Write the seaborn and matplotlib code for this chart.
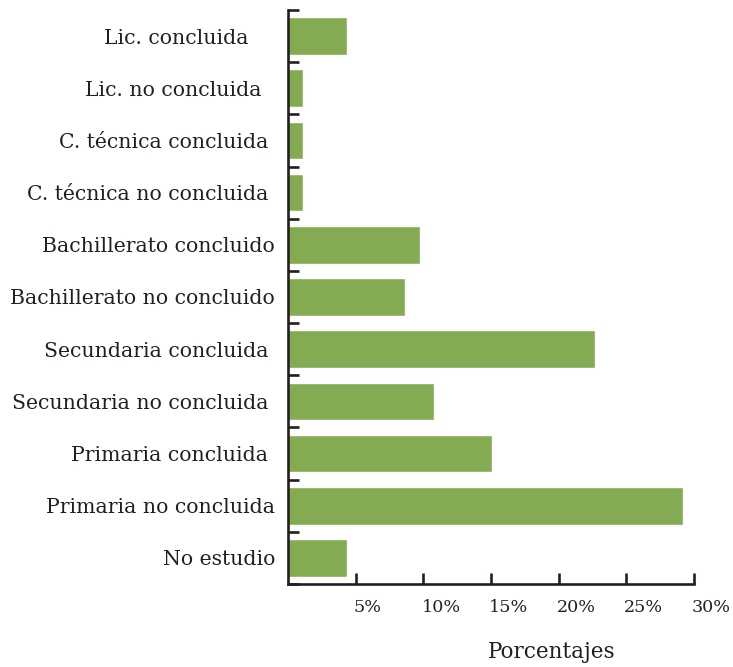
import matplotlib
matplotlib.use("Agg")
import matplotlib.pyplot as plt
import matplotlib.transforms as mtransforms
import seaborn as sns
import pandas as pd
import numpy as np

categories = [
    "Lic. concluida", "Lic. no concluida", "C. técnica concluida",
    "C. técnica no concluida", "Bachillerato concluido",
    "Bachillerato no concluido", "Secundaria concluida",
    "Secundaria no concluida", "Primaria concluida",
    "Primaria no concluida", "No estudio",
]
display_labels = [
    "Lic. concluida    ", "Lic. no concluida  ", "C. técnica concluida ",
    "C. técnica no concluida ", "Bachillerato concluido",
    "Bachillerato no concluido", "Secundaria concluida ",
    "Secundaria no concluida ", "Primaria concluida ",
    "Primaria no concluida", "No estudio",
]
values = [4.36, 1.11, 1.11, 1.11, 9.75, 8.65, 22.7, 10.8, 15.1, 29.2, 4.36]
xticks = [5, 10, 15, 20, 25, 30]
xtick_labels = ["5%", "10%", "15%", "20%", "25%", "30%"]

df = pd.DataFrame({"cat": categories, "val": values})

sns.set_theme(style="white")
plt.rcParams["font.family"] = ["DejaVu Serif"]

fig = plt.figure(figsize=(7.33, 6.67), dpi=100)
ax = fig.add_axes([288 / 733, 1 - 584 / 667, 406 / 733, 574 / 667])

sns.barplot(data=df, x="val", y="cat", orient="h", color="#84ab51",
            saturation=1, width=0.72, ax=ax)

ink = "#231f20"
ax.set_xlim(0, 30)
ax.set_ylim(10.5, -0.5)

for s in ["top", "right"]:
    ax.spines[s].set_visible(False)
for s in ["left", "bottom"]:
    ax.spines[s].set_color(ink)
    ax.spines[s].set_linewidth(1.9)

# y axis: labels at centres, ticks at boundaries
ax.set_yticks(range(len(categories)))
ax.set_yticklabels(display_labels)
ax.set_yticks(np.arange(-0.5, len(categories), 1.0), minor=True)
ax.tick_params(axis="y", which="major", length=0, pad=9.4,
               labelsize=14.7, labelcolor=ink)
ax.tick_params(axis="y", which="minor", direction="in", length=8,
               width=1.9, color=ink, left=True)

# x axis
ax.set_xticks(xticks)
ax.set_xticklabels(xtick_labels)
ax.tick_params(axis="x", which="major", direction="in", length=8,
               width=1.9, color=ink, pad=11, labelsize=12.6,
               labelcolor=ink, bottom=True)
shift = mtransforms.ScaledTranslation(-2 / 100, 0, fig.dpi_scale_trans)
for lbl in ax.get_xticklabels():
    lbl.set_horizontalalignment("left")
    lbl.set_transform(lbl.get_transform() + shift)

ax.set_ylabel("")
ax.set_xlabel("Porcentajes", fontsize=15.5, color=ink)
ax.xaxis.set_label_coords(0.65, -0.1)

fig.savefig("out.png", dpi=100)
